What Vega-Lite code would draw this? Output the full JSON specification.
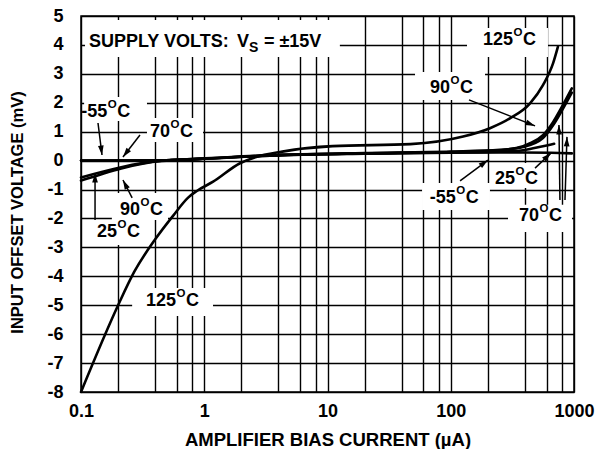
{
  "$schema": "https://vega.github.io/schema/vega-lite/v6.json",
  "width": 493,
  "height": 376,
  "autosize": {"type": "none"},
  "padding": {"left": 81, "top": 16, "right": 31, "bottom": 57},
  "background": "white",
  "config": {"view": {"stroke": "black", "strokeWidth": 1.5}, "font": "Liberation Sans"},
  "datasets": {
    "boxes": [
      {"x":0.1078,"x2":12.6,"y":4.86,"y2":3.58},
      {"x":135.5,"x2":615,"y":4.585,"y2":3.58},
      {"x":51.3,"x2":189.7,"y":3.06,"y2":2.10},
      {"x":0.106,"x2":0.343,"y":2.20,"y2":1.37},
      {"x":0.343,"x2":0.977,"y":1.47,"y2":0.64},
      {"x":0.178,"x2":0.508,"y":-1.12,"y2":-2.05},
      {"x":0.118,"x2":0.330,"y":-2.05,"y2":-2.92},
      {"x":0.260,"x2":1.178,"y":-4.40,"y2":-5.37},
      {"x":58.5,"x2":208,"y":-0.77,"y2":-1.71},
      {"x":208,"x2":530,"y":-0.08,"y2":-0.95},
      {"x":291.5,"x2":964,"y":-1.53,"y2":-2.47}
    ],
    "curves": [
      {"t":"-55","x":0.1,"y":0.0},{"t":"-55","x":0.45,"y":0.01},{"t":"-55","x":0.92,"y":0.07},{"t":"-55","x":4.3,"y":0.2},{"t":"-55","x":20,"y":0.25},{"t":"-55","x":100,"y":0.28},{"t":"-55","x":300,"y":0.32},{"t":"-55","x":400,"y":0.37},{"t":"-55","x":560,"y":0.5},{"t":"-55","x":690,"y":0.58},
      {"t":"25","x":0.1,"y":-0.58},{"t":"25","x":0.45,"y":0.0},{"t":"25","x":0.92,"y":0.06},{"t":"25","x":4.3,"y":0.19},{"t":"25","x":20,"y":0.24},{"t":"25","x":100,"y":0.27},{"t":"25","x":300,"y":0.28},{"t":"25","x":650,"y":0.27},{"t":"25","x":960,"y":0.25},
      {"t":"90","x":0.1,"y":-0.69},{"t":"90","x":0.45,"y":-0.01},{"t":"90","x":0.92,"y":0.05},{"t":"90","x":4.3,"y":0.19},{"t":"90","x":20,"y":0.25},{"t":"90","x":100,"y":0.3},{"t":"90","x":250,"y":0.36},{"t":"90","x":386,"y":0.5},{"t":"90","x":440,"y":0.6},{"t":"90","x":560,"y":0.88},{"t":"90","x":676,"y":1.33},{"t":"90","x":795,"y":1.85},{"t":"90","x":960,"y":2.5},
      {"t":"70","x":0.1,"y":0.0},{"t":"70","x":0.45,"y":0.0},{"t":"70","x":0.92,"y":0.06},{"t":"70","x":4.3,"y":0.2},{"t":"70","x":20,"y":0.26},{"t":"70","x":100,"y":0.31},{"t":"70","x":250,"y":0.37},{"t":"70","x":386,"y":0.47},{"t":"70","x":560,"y":0.78},{"t":"70","x":676,"y":1.22},{"t":"70","x":795,"y":1.72},{"t":"70","x":960,"y":2.35},
      {"t":"125","x":0.1,"y":-8},{"t":"125","x":0.2,"y":-5},{"t":"125","x":0.27,"y":-3.85},{"t":"125","x":0.4,"y":-2.72},{"t":"125","x":0.56,"y":-1.9},{"t":"125","x":0.74,"y":-1.28},{"t":"125","x":0.87,"y":-1.05},{"t":"125","x":1.18,"y":-0.73},{"t":"125","x":1.95,"y":-0.09},{"t":"125","x":2.6,"y":0.12},{"t":"125","x":4.3,"y":0.31},{"t":"125","x":11,"y":0.5},{"t":"125","x":47,"y":0.57},{"t":"125","x":126,"y":0.83},{"t":"125","x":208,"y":1.12},{"t":"125","x":302,"y":1.46},{"t":"125","x":440,"y":1.98},{"t":"125","x":560,"y":2.61},{"t":"125","x":676,"y":3.36},{"t":"125","x":741,"y":3.94}
    ],
    "arrows": [
      {"x":0.148,"y":0.194,"x2":0.1374,"y2":1.30},
      {"x":0.219,"y":0.125,"x2":0.301,"y2":0.886},
      {"x":0.219,"y":-0.67,"x2":0.260,"y2":-1.29},
      {"x":0.130,"y":-0.43,"x2":0.130,"y2":-2.05},
      {"x":483,"y":1.20,"x2":140.6,"y2":2.10},
      {"x":200.5,"y":0.02,"x2":119,"y2":-0.70},
      {"x":650,"y":0.26,"x2":483,"y2":-0.26},
      {"x":755,"y":1.23,"x2":769,"y2":-1.36},
      {"x":877,"y":0.82,"x2":845,"y2":-1.36}
    ],
    "labels": [
      {"x":320,"y":4.0,"t":"125"},
      {"x":98.6,"y":2.35,"t":"90"},
      {"x":0.163,"y":1.51,"t":"-55"},
      {"x":0.527,"y":0.81,"t":"70"},
      {"x":0.301,"y":-1.88,"t":"90"},
      {"x":0.196,"y":-2.63,"t":"25"},
      {"x":0.590,"y":-5.02,"t":"125"},
      {"x":110,"y":-1.48,"t":"-55"},
      {"x":332,"y":-0.81,"t":"25"},
      {"x":520,"y":-2.08,"t":"70"}
    ],
    "supply": [
      {"x":0.116,"y":3.94,"t":"SUPPLY VOLTS:"},
      {"x":1.845,"y":3.94,"t":"V"},
      {"x":3.05,"y":3.94,"t":"= ±15V"}
    ],
    "supplysub": [{"x":2.31,"y":3.755,"t":"S"}]
  },
  "encoding": {
    "x": {"field": "x", "type": "quantitative",
      "scale": {"type": "log", "domain": [0.1, 1000]},
      "axis": {"values": [0.1,0.2,0.4,0.6,0.8,1,2,4,6,8,10,20,40,60,80,100,200,400,600,800,1000],
        "labelExpr": "indexof([0.1,1,10,100,1000], datum.value) >= 0 ? '' + datum.value : ''",
        "grid": true, "gridColor": "black", "gridWidth": 1.4, "gridOpacity": 1,
        "ticks": false, "tickSize": 0, "domain": false,
        "labelFont": "Liberation Sans", "labelFontWeight": "bold", "labelFontSize": 18, "labelColor": "black", "labelPadding": 10, "labelFlush": false, "labelOverlap": false, "labelBaseline": "top",
        "title": "AMPLIFIER BIAS CURRENT (µA)", "titleFont": "Liberation Sans", "titleFontSize": 18.5, "titleFontWeight": "bold", "titleColor": "black", "titleY": 53, "titleBaseline": "alphabetic"}},
    "y": {"field": "y", "type": "quantitative",
      "scale": {"domain": [-8, 5], "nice": false, "zero": false},
      "axis": {"values": [-8,-7,-6,-5,-4,-3,-2,-1,0,1,2,3,4,5], "labelExpr": "'' + datum.value",
        "grid": true, "gridColor": "black", "gridWidth": 1.4, "gridOpacity": 1,
        "ticks": false, "tickSize": 0, "domain": false,
        "labelFont": "Liberation Sans", "labelFontWeight": "bold", "labelFontSize": 18, "labelColor": "black", "labelPadding": 18, "labelFlush": false, "labelOverlap": false,
        "title": "INPUT OFFSET VOLTAGE (mV)", "titleFont": "Liberation Sans", "titleFontSize": 16.5, "titleFontWeight": "bold", "titleColor": "black", "titleX": -64, "titleY": 196, "titleBaseline": "middle", "titleAlign": "center"}}
  },
  "layer": [
    {
      "data": {"name": "boxes"},
      "mark": {"type": "rect", "fill": "white"},
      "encoding": {"x2": {"field": "x2"}, "y2": {"field": "y2"}}
    },
    {
      "data": {"name": "curves"},
      "mark": {"type": "line", "stroke": "black", "strokeWidth": 2.6, "interpolate": "monotone", "strokeJoin": "round", "strokeCap": "round"},
      "encoding": {"detail": {"field": "t", "type": "nominal"}}
    },
    {
      "data": {"name": "arrows"},
      "mark": {"type": "rule", "stroke": "black", "strokeWidth": 1.5},
      "encoding": {"x2": {"field": "x2"}, "y2": {"field": "y2"}}
    },
    {
      "data": {"name": "arrows"},
      "mark": {"type": "point", "shape": "M0,0L0.6,2L-0.6,2Z", "filled": true, "fill": "black", "stroke": null, "opacity": 1, "size": 90,
        "angle": {"expr": "atan2(scale('x', datum.x) - scale('x', datum.x2), scale('y', datum.y2) - scale('y', datum.y)) * 180 / PI"}},
      "encoding": {}
    },
    {
      "data": {"name": "labels"},
      "mark": {"type": "text", "align": "right", "baseline": "alphabetic", "font": "Liberation Sans", "fontWeight": "bold", "fontSize": 18, "fill": "black"},
      "encoding": {"text": {"field": "t"}}
    },
    {
      "data": {"name": "labels"},
      "mark": {"type": "text", "align": "left", "baseline": "alphabetic", "font": "Liberation Sans", "fontWeight": "bold", "fontSize": 11.5, "fill": "black", "dx": 0.5, "dy": -9, "text": "O"},
      "encoding": {}
    },
    {
      "data": {"name": "labels"},
      "mark": {"type": "text", "align": "left", "baseline": "alphabetic", "font": "Liberation Sans", "fontWeight": "bold", "fontSize": 18, "fill": "black", "dx": 10, "text": "C"},
      "encoding": {}
    },
    {
      "data": {"name": "supply"},
      "mark": {"type": "text", "align": "left", "baseline": "alphabetic", "font": "Liberation Sans", "fontWeight": "bold", "fontSize": 18, "fill": "black"},
      "encoding": {"text": {"field": "t"}}
    },
    {
      "data": {"name": "supplysub"},
      "mark": {"type": "text", "align": "left", "baseline": "alphabetic", "font": "Liberation Sans", "fontWeight": "bold", "fontSize": 14, "fill": "black"},
      "encoding": {"text": {"field": "t"}}
    }
  ]
}
